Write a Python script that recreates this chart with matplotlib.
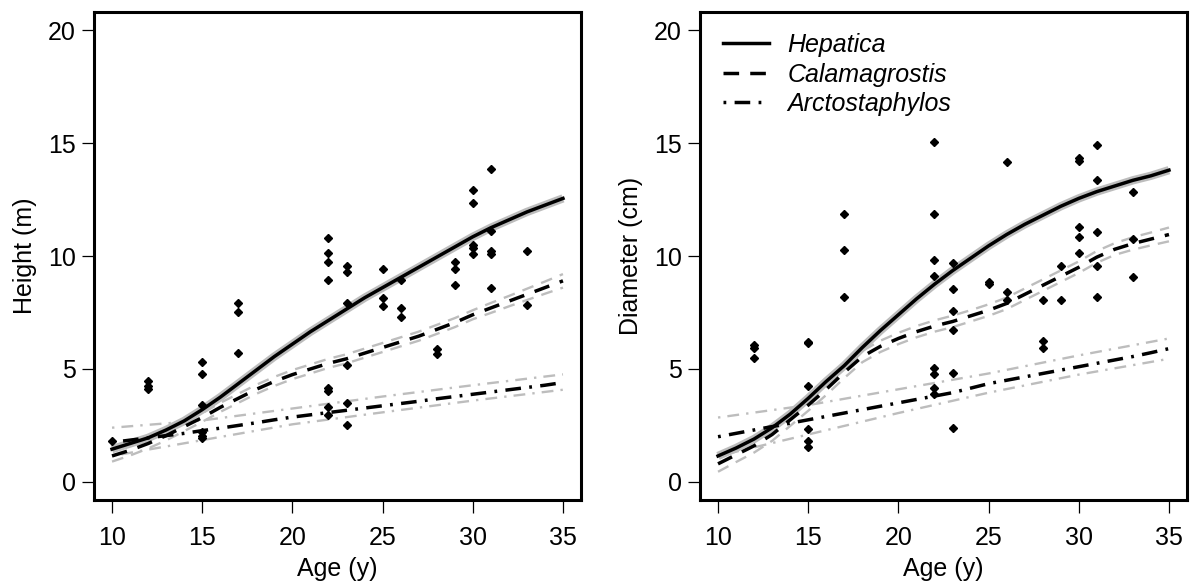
import matplotlib
matplotlib.use("Agg")
import matplotlib.pyplot as plt

plt.rcParams['font.family'] = ['Liberation Sans', 'DejaVu Sans']

# age grid of the fitted curves (y)
ages = list(range(10, 36))
ci_ages = [10, 15, 20, 25, 30, 35]

##
# observed trees
##
height_age = [10, 12, 12, 12, 15, 15, 15, 15, 15, 15, 17, 17, 17,
              22, 22, 22, 22, 22, 22, 22, 22, 23, 23, 23, 23, 23, 23,
              25, 25, 25, 26, 26, 26, 28, 28, 29, 29, 29,
              30, 30, 30, 30, 30, 31, 31, 31, 31, 31, 33, 33]
height_val = [1.8, 4.45, 4.25, 4.1, 5.32, 4.79, 3.42, 2.2, 2.05, 1.95,
              7.9, 7.51, 5.69,
              10.8, 10.12, 9.73, 8.92, 4.15, 4.04, 3.33, 2.96,
              9.56, 9.3, 7.9, 5.19, 3.48, 2.52,
              9.41, 8.15, 7.78, 8.92, 7.7, 7.3, 5.9, 5.67, 9.75, 9.41, 8.71,
              12.92, 12.33, 10.49, 10.37, 10.1,
              13.85, 11.11, 10.22, 10.07, 8.59, 10.22, 7.81]

diam_age = [12, 12, 12, 15, 15, 15, 15, 15, 15, 17, 17, 17,
            22, 22, 22, 22, 22, 22, 22, 22, 23, 23, 23, 23, 23, 23,
            25, 25, 26, 26, 26, 28, 28, 28, 29, 29,
            30, 30, 30, 30, 30, 31, 31, 31, 31, 31, 33, 33, 33]
diam_val = [6.05, 5.95, 5.5, 6.2, 6.15, 4.25, 2.35, 1.8, 1.55,
            11.87, 10.26, 8.17,
            15.03, 11.86, 9.82, 9.13, 5.03, 4.78, 4.15, 3.87,
            9.68, 8.53, 7.57, 6.73, 4.83, 2.37,
            8.84, 8.75, 14.17, 8.42, 8.05, 8.05, 6.24, 5.94, 9.55, 8.05,
            14.32, 14.2, 11.28, 10.85, 10.14,
            14.92, 13.36, 11.07, 9.55, 8.17, 12.83, 10.76, 9.07]

##
# fitted curves, height (m)
##
h_hep = [1.45, 1.7, 1.95, 2.3, 2.7, 3.2, 3.75, 4.35, 4.95, 5.55, 6.1, 6.65,
         7.15, 7.65, 8.15, 8.6, 9.05, 9.5, 9.95, 10.4, 10.85, 11.25, 11.6,
         11.95, 12.25, 12.55]
h_cal = [1.15, 1.4, 1.7, 2.05, 2.45, 2.85, 3.3, 3.7, 4.1, 4.45, 4.75, 5.0,
         5.25, 5.45, 5.7, 5.95, 6.2, 6.45, 6.75, 7.05, 7.4, 7.7, 8.0, 8.3,
         8.6, 8.9]
h_cal_lo = [0.9, 1.17, 1.48, 1.84, 2.25, 2.66, 3.1, 3.5, 3.9, 4.25, 4.55, 4.8,
            5.05, 5.25, 5.5, 5.75, 6.0, 6.25, 6.55, 6.85, 7.2, 7.48, 7.77,
            8.05, 8.33, 8.6]
h_cal_hi = [1.4, 1.63, 1.92, 2.26, 2.65, 3.04, 3.5, 3.9, 4.3, 4.65, 4.95, 5.2,
            5.45, 5.65, 5.9, 6.15, 6.4, 6.65, 6.95, 7.25, 7.6, 7.92, 8.23,
            8.55, 8.87, 9.2]
h_arc = [1.75, 1.85, 1.95, 2.05, 2.15, 2.27, 2.38, 2.5, 2.62, 2.75, 2.87, 2.97,
         3.07, 3.17, 3.27, 3.37, 3.47, 3.57, 3.68, 3.78, 3.88, 3.98, 4.08,
         4.18, 4.28, 4.4]
h_arc_lo = [1.15, 1.85, 2.55, 3.08, 3.6, 4.08]
h_arc_hi = [2.4, 2.72, 3.25, 3.78, 4.28, 4.76]

##
# fitted curves, diameter (cm)
##
d_hep = [1.15, 1.5, 1.9, 2.4, 3.0, 3.7, 4.45, 5.15, 5.95, 6.7, 7.4, 8.1, 8.75,
         9.35, 9.9, 10.45, 10.95, 11.4, 11.8, 12.2, 12.55, 12.85, 13.1,
         13.35, 13.55, 13.8]
d_cal = [0.8, 1.2, 1.6, 2.1, 2.75, 3.4, 4.1, 4.85, 5.55, 6.0, 6.35, 6.65, 6.9,
         7.1, 7.35, 7.6, 7.9, 8.3, 8.7, 9.1, 9.5, 9.95, 10.3, 10.55, 10.75,
         10.95]
d_cal_lo = [0.45, 0.88, 1.3, 1.82, 2.48, 3.15, 3.85, 4.6, 5.3, 5.75, 6.1, 6.4,
            6.65, 6.85, 7.1, 7.35, 7.65, 8.05, 8.45, 8.85, 9.25, 9.7, 10.05,
            10.28, 10.47, 10.65]
d_cal_hi = [1.2, 1.55, 1.92, 2.4, 3.03, 3.66, 4.36, 5.1, 5.8, 6.25, 6.6, 6.9,
            7.15, 7.36, 7.6, 7.86, 8.16, 8.56, 8.96, 9.36, 9.76, 10.22, 10.57,
            10.83, 11.04, 11.26]
d_arc = [2.0, 2.15, 2.3, 2.45, 2.6, 2.75, 2.9, 3.05, 3.2, 3.35, 3.5, 3.65, 3.8,
         3.95, 4.15, 4.35, 4.5, 4.65, 4.8, 4.95, 5.1, 5.25, 5.4, 5.55, 5.72,
         5.9]
d_arc_lo = [1.15, 2.1, 3.05, 3.95, 4.75, 5.45]
d_arc_hi = [2.85, 3.4, 4.1, 4.8, 5.6, 6.35]

species = ['Hepatica', 'Calamagrostis', 'Arctostaphylos']

DASH = (4.5, 3.2)
DASHDOT = (0.8, 2.4, 4.5, 2.4)
GREY = '#bdbdbd'
FS = 18


def plot_panel(ax, pts_x, pts_y, hep, cal, cal_lo, cal_hi, arc, arc_lo,
               arc_hi, ylabel):
    # confidence bands first (grey)
    ax.plot(ages, hep, color=GREY, lw=6, solid_capstyle='butt', zorder=2)
    for lo_hi in (cal_lo, cal_hi):
        ax.plot(ages, lo_hi, color=GREY, lw=1.7, dashes=(5, 3.5), zorder=2)
    for lo_hi in (arc_lo, arc_hi):
        ax.plot(ci_ages, lo_hi, color=GREY, lw=1.7, dashes=(1, 3, 5, 3),
                zorder=2)
    # fitted curves
    ax.plot(ages, hep, color='k', lw=2.5, label=species[0], zorder=3)
    ax.plot(ages, cal, color='k', lw=2.5, dashes=DASH, label=species[1],
            zorder=3)
    ax.plot(ages, arc, color='k', lw=2.5, dashes=DASHDOT, label=species[2],
            zorder=3)
    # observations
    ax.plot(pts_x, pts_y, ls='none', marker='D', ms=4.3, color='k',
            zorder=4)
    ax.set_xlim(9, 36)
    ax.set_ylim(-0.8, 20.8)
    ax.set_xticks([10, 15, 20, 25, 30, 35])
    ax.set_yticks([0, 5, 10, 15, 20])
    ax.tick_params(axis='both', direction='out', length=9, width=0.9,
                   labelsize=FS)
    ax.tick_params(axis='x', pad=10)
    ax.tick_params(axis='y', pad=4)
    for sp in ax.spines.values():
        sp.set_linewidth(2.2)
    ax.set_xlabel('Age (y)', fontsize=FS, labelpad=5)
    ax.set_ylabel(ylabel, fontsize=FS, labelpad=8)


fig = plt.figure(figsize=(11.9, 5.87), dpi=100)
ax1 = fig.add_axes([94/1190, 1 - 500/587, 487/1190, 488/587])
ax2 = fig.add_axes([700/1190, 1 - 500/587, 487/1190, 488/587])

plot_panel(ax1, height_age, height_val, h_hep, h_cal, h_cal_lo, h_cal_hi,
           h_arc, h_arc_lo, h_arc_hi, 'Height (m)')
plot_panel(ax2, diam_age, diam_val, d_hep, d_cal, d_cal_lo, d_cal_hi,
           d_arc, d_arc_lo, d_arc_hi, 'Diameter (cm)')

leg = ax2.legend(loc='upper left', bbox_to_anchor=(0.0, 1.003),
                 frameon=False, fontsize=FS, handlelength=1.85,
                 handletextpad=0.75, labelspacing=0.22)
for t in leg.get_texts():
    t.set_fontstyle('italic')

fig.savefig('out.png', dpi=100)
